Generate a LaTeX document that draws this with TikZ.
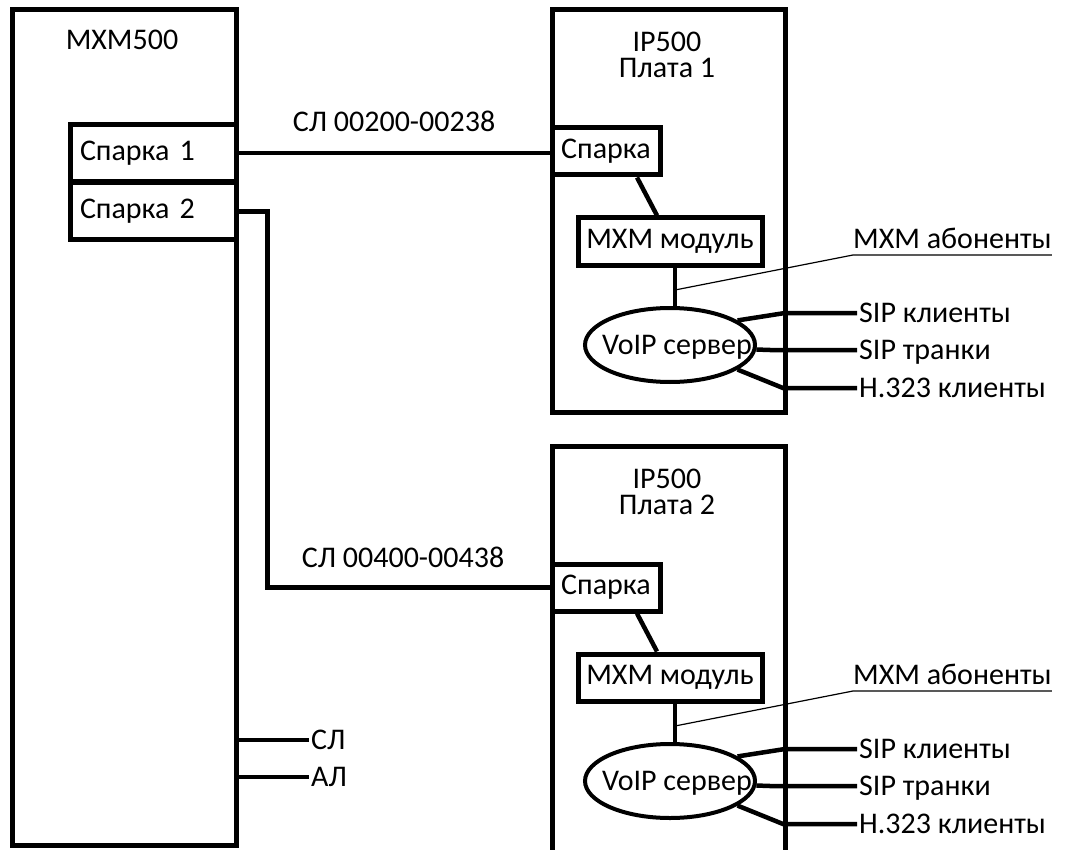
\documentclass[tikz,border=0pt]{standalone}
\usepackage{fontspec}
\setmainfont{Carlito}
\usetikzlibrary{shapes.geometric,calc}
\newcommand\ipboard[4]{%
\begin{scope}[shift={(0,#1)}, name prefix=#2-]
  \node[frame, minimum width=233, minimum height=#4] (box) at (668.5,{10+#4/2}) {};
  \node[anchor=base, inner sep=1pt, text depth=0pt] (title) at (667,52) {IP500};
  \node[anchor=base, inner sep=1pt, text depth=0pt] (plata) at (667,78) {Плата #3};
  \node[frame, minimum width=108, minimum height=47] (sp) at (606,151.5) {Спарка};
  \node[frame, minimum width=184, minimum height=47] (mm) at (670,241.5) {MXM модуль};
  \node[draw, ellipse, line width=4pt, minimum width=170, minimum height=74, inner sep=0pt] (ell) at (670,345) {};
  \node (vt) at (677,347) {VoIP сервер};
  \coordinate (tap) at (675,290);
  \node[lbl, anchor=west] (sc) at (857,313) {SIP клиенты};
  \node[lbl, anchor=west] (st) at (857,350) {SIP транки};
  \node[lbl, anchor=west] (hc) at (857,388) {H.323 клиенты};
  \node[lbl, anchor=south west, inner xsep=0pt, inner ysep=6pt] (ab) at (853,255) {MXM абоненты};
  \draw[wire] ([xshift=31pt]sp.south) -- ([xshift=-13pt]mm.north);
  \draw[wire] ([xshift=5pt]mm.south) -- ([xshift=5pt]mm.south |- ell.north);
  \draw[wire] (ell.20) -- ([xshift=-72pt]sc.west) -- (sc.west);
  \draw[wire] (ell.-3) -- ([xshift=-87pt]st.west) -- (st.west);
  \draw[wire] (ell.-20) -- ([xshift=-74pt]hc.west) -- (hc.west);
  \draw[thinline] (tap) -- (ab.south west) -- (ab.south east);
\end{scope}}
\begin{document}
\begin{tikzpicture}[x=1pt,y=-1pt,
  font=\fontsize{30}{32}\selectfont,
  frame/.style={draw, rectangle, line width=5pt, inner sep=0pt},
  wire/.style={line width=4.5pt},
  thinline/.style={line width=1.2pt},
  lbl/.style={inner xsep=2pt, inner ysep=0pt, text depth=0pt}]
\useasboundingbox (0,0) rectangle (1083,850);
\fill[white] (0,0) rectangle (1083,850);
\clip (0,0) rectangle (1083,850);
% MXM500
\node[frame, minimum width=224, minimum height=835] (mxm) at (124,427.5) {};
\node (mxmt) at (122,40) {MXM500};
\node[frame, minimum width=166, minimum height=57, text width=146pt, align=left, inner xsep=10pt] (sp1) at (153,153) {Спарка 1};
\node[frame, minimum width=166, minimum height=57, text width=146pt, align=left, inner xsep=10pt] (sp2) at (153,211.5) {Спарка 2};
\node[lbl, anchor=west] (sl) at (309,740) {СЛ};
\node[lbl, anchor=west] (al) at (309,777) {АЛ};
\draw[wire] (mxm.east |- sl.west) -- (sl.west);
\draw[wire] (mxm.east |- al.west) -- (al.west);
% boards
\ipboard{0}{b1}{1}{402}
\ipboard{436}{b2}{2}{480}
% trunk lines
\node (l1) at (394,121) {СЛ 00200-00238};
\node (l2) at (403,557) {СЛ 00400-00438};
\draw[wire] (sp1.east) -- (sp1.east -| b1-sp.west);
\draw[wire] (sp2.east) -- ++(29,0) |- (b2-sp.west);
\end{tikzpicture}
\end{document}
